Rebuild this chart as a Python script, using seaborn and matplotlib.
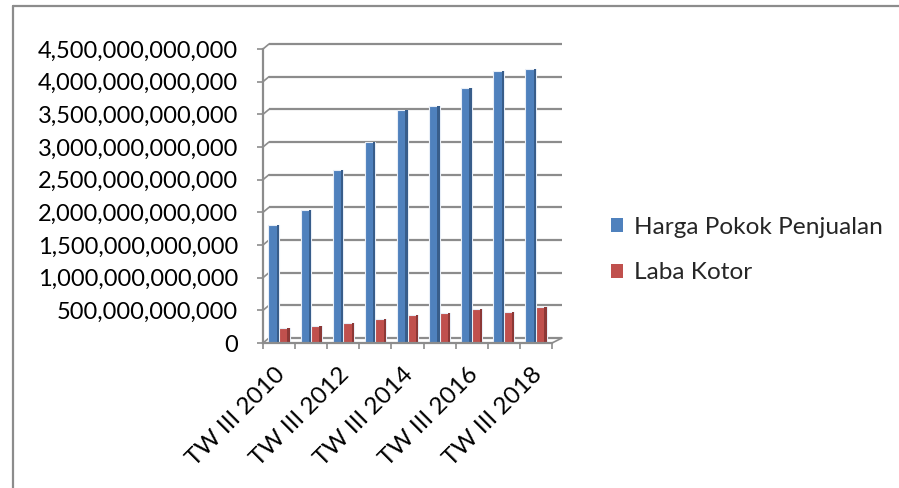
import numpy as np
import pandas as pd
import matplotlib
matplotlib.use("Agg")
import matplotlib.pyplot as plt
import seaborn as sns
from matplotlib.lines import Line2D
from matplotlib.patches import Patch, Rectangle
from matplotlib.ticker import FuncFormatter, FixedLocator
from matplotlib.transforms import ScaledTranslation

# Data (rupiah), third quarter of each year
categories = ["TW III 2010", "TW III 2011", "TW III 2012", "TW III 2013", "TW III 2014",
              "TW III 2015", "TW III 2016", "TW III 2017", "TW III 2018"]
harga_pokok = [1.80e12, 2.04e12, 2.65e12, 3.07e12, 3.57e12, 3.62e12, 3.90e12, 4.17e12, 4.19e12]
laba_kotor = [0.235e12, 0.255e12, 0.310e12, 0.370e12, 0.430e12, 0.455e12, 0.515e12, 0.480e12, 0.555e12]
series = ["Harga Pokok Penjualan", "Laba Kotor"]
y_ticks = [0, 5e11, 1e12, 1.5e12, 2e12, 2.5e12, 3e12, 3.5e12, 4e12, 4.5e12]

df = pd.DataFrame({
    "Periode": categories * 2,
    "Nilai": harga_pokok + laba_kotor,
    "Seri": [series[0]] * len(categories) + [series[1]] * len(categories),
})

colors = ["#4F81BD", "#C0504D"]
side_colors = ["#385D8A", "#8C3836"]
grid_col = "#8C8C8C"

sns.set_theme(style="white")
plt.rcParams["font.family"] = ["Lato", "DejaVu Sans"]

W, H = 899, 488
fig = plt.figure(figsize=(W / 100, H / 100), dpi=100)
ax_w, ax_h = 289, 294
ax = fig.add_axes([263 / W, 1 - 343 / H, ax_w / W, ax_h / H])

sns.barplot(data=df, x="Periode", y="Nilai", hue="Seri", palette=colors,
            saturation=1, width=0.66, legend=False, ax=ax, zorder=3,
            edgecolor="#E8EEF7", linewidth=0.8)

ax.set_xlim(-0.5, len(categories) - 0.5)
ax.set_ylim(0, y_ticks[-1])
ax.set_xlabel("")
ax.set_ylabel("")

# darker right-hand face on each column for a bit of depth
n = len(categories)
for i, p in enumerate(ax.patches[: 2 * n]):
    s = 0 if i < n else 1
    fw = p.get_width() * 0.22
    ax.add_patch(Rectangle((p.get_x() + p.get_width() - fw, 0), fw, p.get_height(),
                           facecolor=side_colors[s], edgecolor="none", zorder=3.5))

# back-wall gridlines, shifted up and right, with diagonal links to the axis
dxl = 6 / ax_w
dxr = 10 / ax_w
dy = 5 / ax_h * y_ticks[-1]
tr = ax.get_yaxis_transform()
for v in y_ticks:
    ax.plot([dxl, 1 + dxr], [v + dy, v + dy], transform=tr, color=grid_col,
            lw=1.6, zorder=1, clip_on=False, solid_capstyle="butt")
    ax.plot([0, dxl], [v, v + dy], transform=tr, color=grid_col,
            lw=1.2, zorder=1, clip_on=False)
ax.plot([1, 1 + dxr], [0, dy], transform=tr, color=grid_col, lw=1.2,
        zorder=1, clip_on=False)

for side in ["top", "right"]:
    ax.spines[side].set_visible(False)
for side in ["left", "bottom"]:
    ax.spines[side].set_color(grid_col)
    ax.spines[side].set_linewidth(1.6)
    ax.spines[side].set_zorder(4)

ax.yaxis.set_major_locator(FixedLocator(y_ticks))
ax.yaxis.set_major_formatter(FuncFormatter(lambda v, _: f"{v:,.0f}"))
ax.tick_params(axis="y", direction="out", length=4.3, width=1.2, color=grid_col,
               pad=13.5, labelsize=17, labelcolor="black", left=True)

major_x = list(range(0, n, 2))
ax.xaxis.set_major_locator(FixedLocator(major_x))
ax.set_xticklabels([categories[i] for i in major_x])
ax.xaxis.set_minor_locator(FixedLocator(np.arange(-0.5, n, 1.0)))
ax.tick_params(axis="x", which="major", length=0, pad=15, labelsize=17.5,
               labelcolor="black")
ax.tick_params(axis="x", which="minor", direction="out", length=4.3, width=1.2,
               color=grid_col, bottom=True)
shift = ScaledTranslation(-5 / 100, 0, fig.dpi_scale_trans)
for lbl in ax.get_xticklabels():
    lbl.set_rotation(45)
    lbl.set_ha("right")
    lbl.set_va("top")
    lbl.set_rotation_mode("anchor")
    lbl.set_transform(lbl.get_transform() + shift)

handles = [Patch(facecolor=c, edgecolor="none") for c in colors]
fig.legend(handles, series, loc="center left", bbox_to_anchor=(611 / W, 1 - 250 / H),
           frameon=False, fontsize=17.6, handlelength=0.5, handleheight=0.5,
           handletextpad=0.45, labelspacing=1.0, borderpad=0, borderaxespad=0)

# outer chart frame
fig.add_artist(Line2D([13 / W, 13 / W], [0, 1 - 5.5 / H], color=grid_col, lw=1.6,
                      transform=fig.transFigure))
fig.add_artist(Line2D([13 / W, 1], [1 - 5.5 / H, 1 - 5.5 / H], color=grid_col, lw=1.6,
                      transform=fig.transFigure))

fig.savefig("out.png", dpi=100)
